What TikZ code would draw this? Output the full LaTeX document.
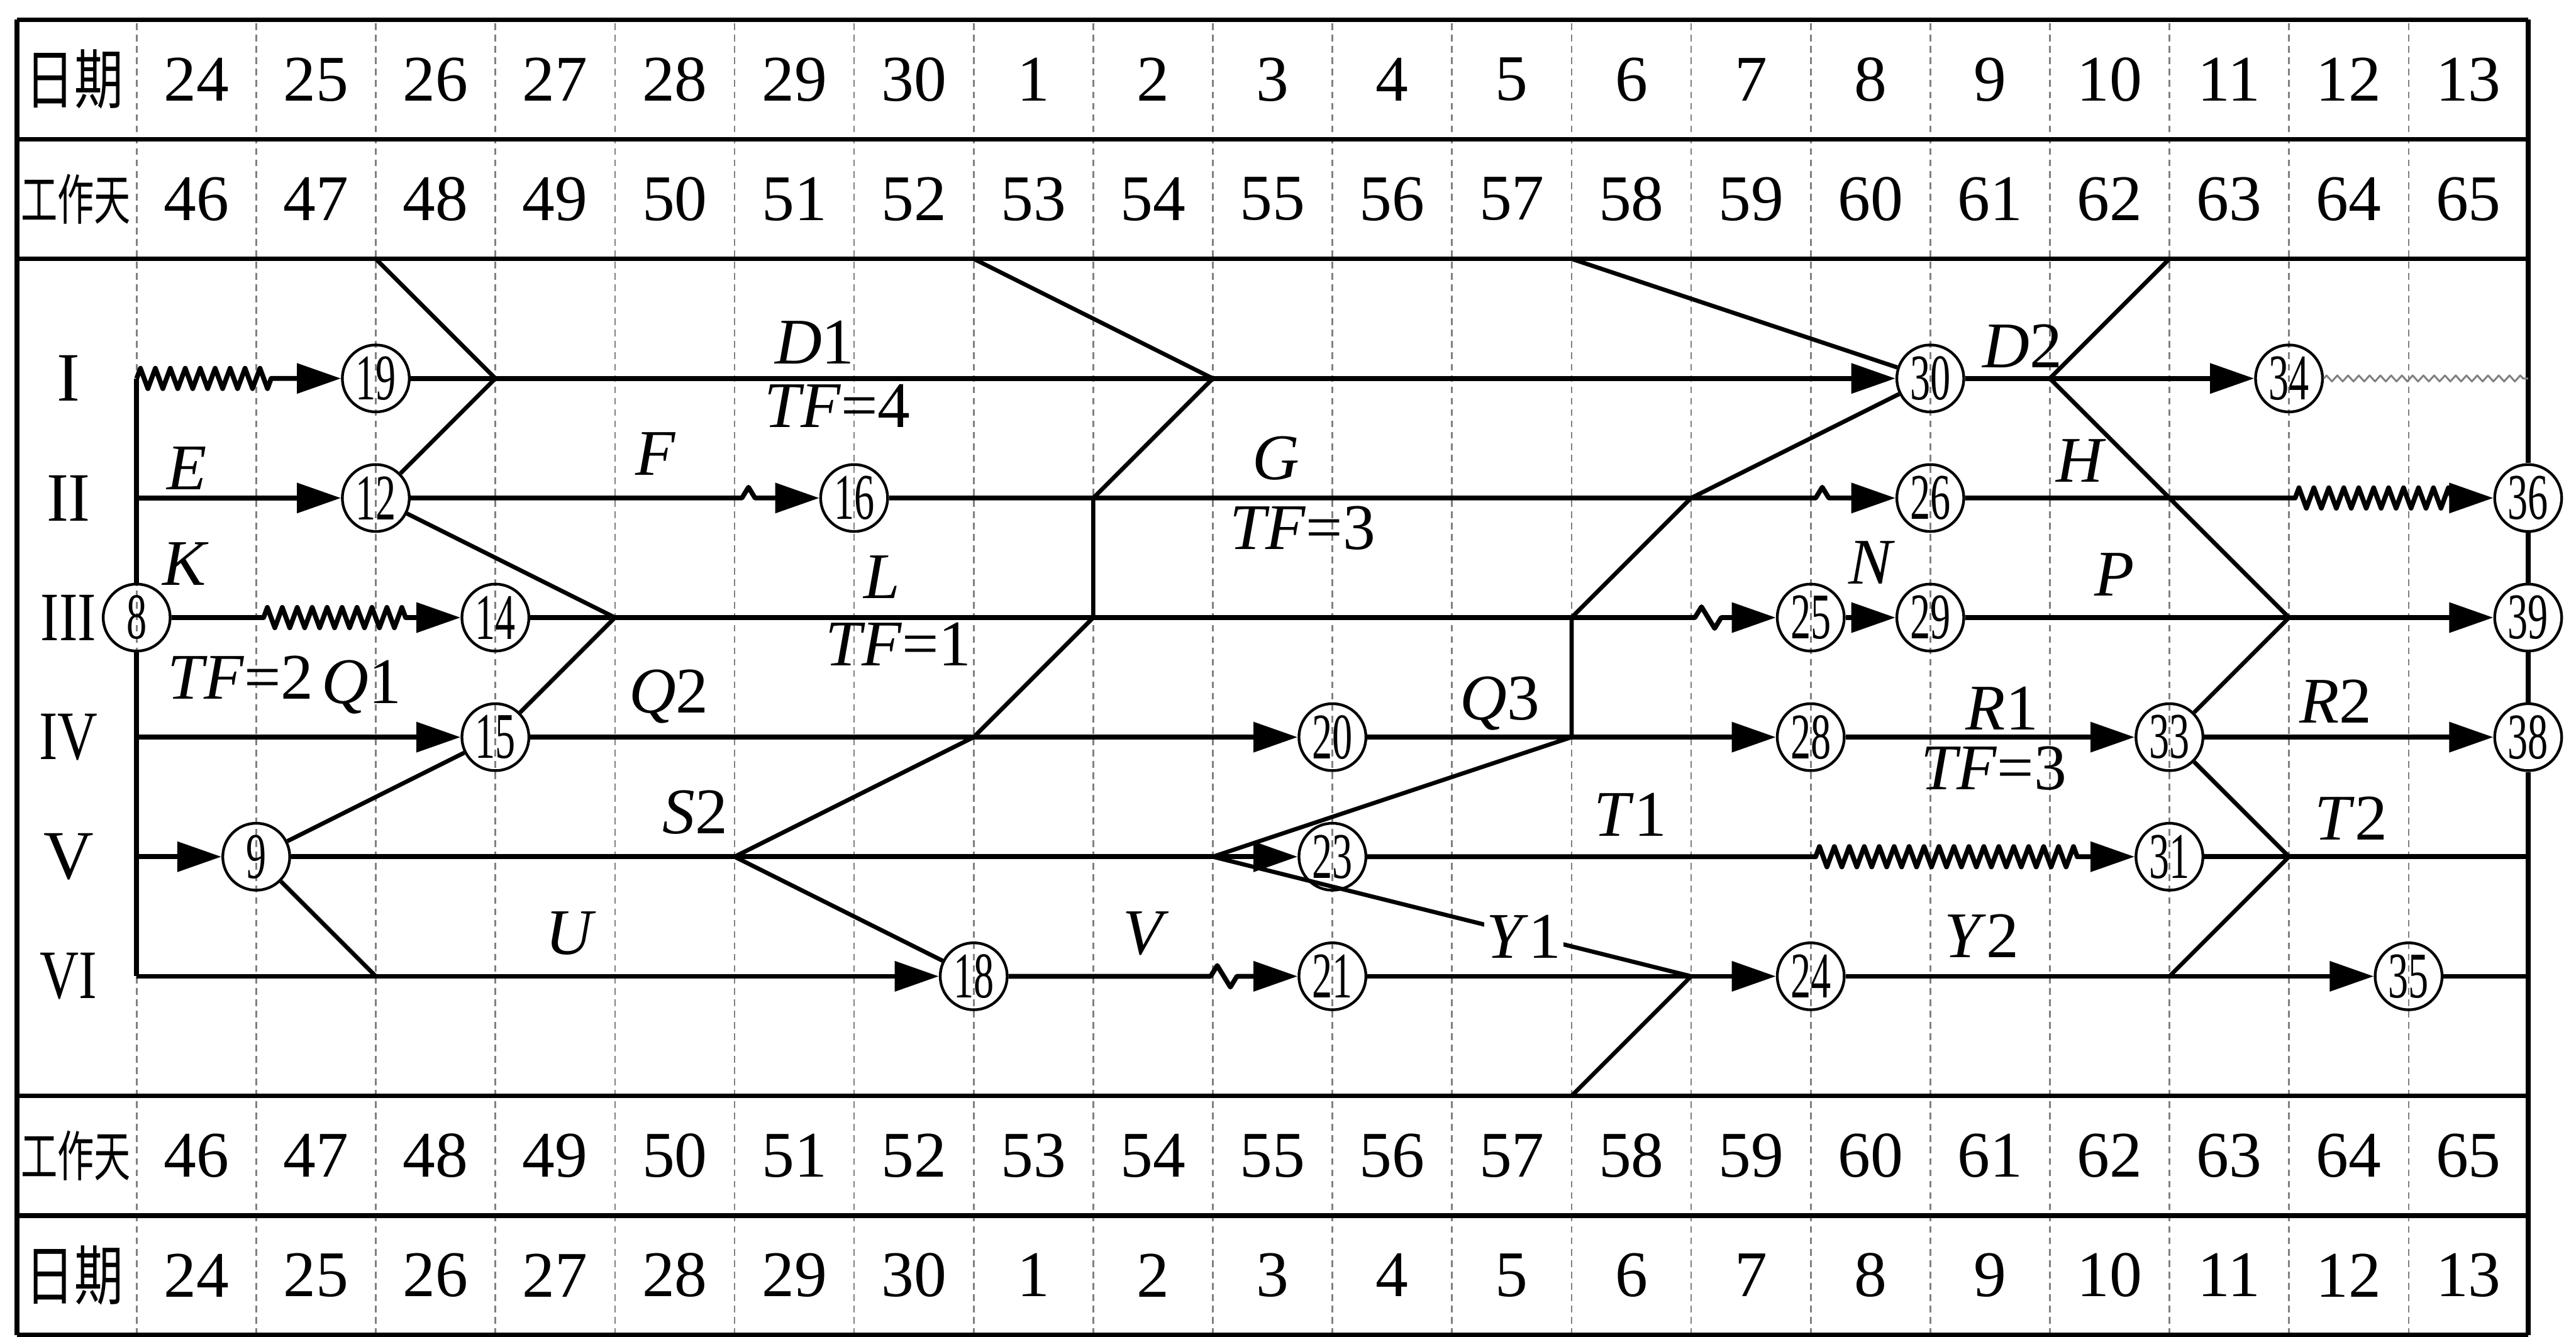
\documentclass[tikz,border=0pt]{standalone}
\usepackage{fontspec}
\setmainfont{Liberation Serif}
\newfontfamily\cjkfont{Noto Sans CJK SC}
\usepackage{graphicx}
\usepackage{tikz}
\usetikzlibrary{arrows.meta,decorations.pathmorphing}
\tikzset{
  every picture/.style={line join=round, >={Triangle[length=10.5pt,width=7pt]}},
  frame/.style={line width=1.15pt},
  gridline/.style={gray, line width=0.4pt, dash pattern=on 1.6pt off 1.1pt},
  work/.style={line width=1.15pt},
  prog/.style={line width=1pt},
  evt/.style={circle, draw, line width=0.65pt, inner sep=0pt, minimum size=0.56cm, font=\fontsize{15.5}{15.5}\selectfont},
  num/.style={font=\fontsize{15.5}{16}\selectfont},
  cjk/.style={font=\cjkfont},
  lbl/.style={font=\fontsize{15.5}{16}\selectfont, inner sep=0pt},
  wave/.style 2 args={decorate, decoration={zigzag, segment length=1.25mm, amplitude=0.85mm, pre length=#1, post length=#2}},
  kink/.style 2 args={decorate, decoration={zigzag, segment length=2.2mm, amplitude=0.9mm, pre length=#1, post length=#2}},
  hairwave/.style={gray, line width=0.45pt, decorate, decoration={zigzag, segment length=0.9mm, amplitude=0.25mm}},
}

\begin{document}
\begin{tikzpicture}
\useasboundingbox (-0.143,-0.013) rectangle (21.4,11.165);
\foreach \x in {1,...,20} \draw[gridline] (\x,0) -- (\x,11);
\draw[frame] (0,11) -- (21,11) (0,10) -- (21,10) (0,9) -- (21,9)
(0,2) -- (21,2) (0,1) -- (21,1) (0,0) -- (21,0) (0,0) -- (0,11);
\coordinate (rt) at (21,11);
\coordinate (rb) at (21,0);
\foreach \x in {1,...,21} {\foreach \y in {2,...,9} {\coordinate (p\x-\y) at (\x,\y);}}

\node[cjk] (rqtop) at (0.48,10.5) {\fontsize{15.5}{15.5}\selectfont\scalebox{0.75}[1]{日期}};
\node[cjk] (gztop) at (0.49,9.5) {\fontsize{13}{13}\selectfont\scalebox{0.67}[1]{工作天}};
\node[cjk] (gzbot) at (0.49,1.5) {\fontsize{13}{13}\selectfont\scalebox{0.67}[1]{工作天}};
\node[cjk] (rqbot) at (0.48,0.5) {\fontsize{15.5}{15.5}\selectfont\scalebox{0.75}[1]{日期}};
\foreach \d [count=\i] in {24,25,26,27,28,29,30,1,2,3,4,5,6,7,8,9,10,11,12,13} {
  \node[num] (dtop\i) at (\i+0.5,10.5) {\d};
  \node[num] (dbot\i) at (\i+0.5,0.5) {\d};
}
\foreach \w [count=\i] in {46,...,65} {
  \node[num] (wtop\i) at (\i+0.5,9.5) {\w};
  \node[num] (wbot\i) at (\i+0.5,1.5) {\w};
}
\foreach \r/\y/\s in {I/8/1,II/7/0.95,III/6/0.8,IV/5/0.8,V/4/1,VI/3/0.78}
  \node[num] (lane\r) at (0.43,\y) {\fontsize{16.5}{17}\selectfont\scalebox{\s}[1]{\r}};

\foreach \n/\x/\y in {8/1/6,9/2/4,12/3/7,14/4/6,15/4/5,16/7/7,18/8/3,19/3/8,20/11/5,21/11/3,23/11/4,24/15/3,25/15/6,26/16/7,28/15/5,29/16/6,30/16/8,31/18/4,33/18/5,34/19/8,35/20/3,36/21/7,38/21/5,39/21/6}
  \node[evt] (n\n) at (\x,\y) {\scalebox{0.62}[1]{\n}};

\draw[work] (p1-8) -- (n8) (n8) -- (p1-3);
\draw[frame] (rt) -- (n36) (n36) -- (n39) (n39) -- (n38) (n38) -- (rb);

\draw[work,->,wave={0pt}{0.58cm}] (p1-8) -- (n19);
\draw[work,->] (n19) -- (n30);
\draw[work,->] (n30) -- (n34);
\draw[hairwave] (n34) -- (p21-8);
\draw[work,->] (p1-7) -- (n12);
\draw[work,->,kink={2.77cm}{0.45cm}] (n12) -- (n16);
\draw[work,->,kink={7.75cm}{0.47cm}] (n16) -- (n26);
\draw[work,->,wave={2.76cm}{0.34cm}] (n26) -- (n36);
\draw[work,->,wave={0.77cm}{0.42cm}] (n8) -- (n14);
\draw[work,->,kink={9.74cm}{0.44cm}] (n14) -- (n25);
\draw[work,->] (n25) -- (n29);
\draw[work,->] (n29) -- (n39);
\draw[work,->] (p1-5) -- (n15);
\draw[work,->] (n15) -- (n20);
\draw[work,->] (n20) -- (n28);
\draw[work,->] (n28) -- (n33);
\draw[work,->] (n33) -- (n38);
\draw[work,->] (p1-4) -- (n9);
\draw[work,->] (n9) -- (n23);
\draw[work,->,wave={3.75cm}{0.45cm}] (n23) -- (n31);
\draw[work] (n31) -- (p21-4);
\draw[work,->] (p1-3) -- (n18);
\draw[work,->,kink={1.69cm}{0.49cm}] (n18) -- (n21);
\draw[work,->] (n21) -- (n24);
\draw[work,->] (n24) -- (n35);
\draw[work] (n35) -- (p21-3);

\draw[prog] (p3-9) -- (p4-8) -- (n12) -- (p5-6) -- (n15) -- (n9) -- (p3-3);
\draw[prog] (p8-9) -- (p10-8) -- (p9-7) -- (p9-6) -- (p8-5) -- (p6-4) -- (n18);
\draw[prog] (p13-9) -- (n30) -- (p14-7) -- (p13-6) -- (p13-5) -- (p10-4) -- (p14-3) -- (p13-2);
\draw[prog] (p18-9) -- (p17-8) -- (p19-6) -- (n33) -- (p19-4) -- (p18-3);

\foreach \t/\x/\y [count=\i] in {{\textit{D}1}/6.67/8.3,{\textit{TF}=4}/6.86/7.77,{\textit{D}2}/16.77/8.27,
{\textit{E}}/1.42/7.25,{\textit{F}}/5.34/7.37,{\textit{G}}/10.53/7.33,{\textit{TF}=3}/10.75/6.75,
{\textit{H}}/17.26/7.31,{\textit{K}}/1.41/6.45,{\textit{TF}=2}/1.87/5.5,{\textit{Q}1}/2.88/5.42,
{\textit{L}}/7.23/6.34,{\textit{TF}=1}/7.37/5.78,{\textit{N}}/15.51/6.46,{\textit{P}}/17.54/6.36,
{\textit{Q}2}/5.45/5.34,{\textit{Q}3}/12.4/5.28,{\textit{R}1}/16.6/5.24,{\textit{TF}=3}/16.53/4.74,
{\textit{R}2}/19.39/5.3,{\textit{S}2}/5.67/4.37,{\textit{T}1}/13.49/4.35,{\textit{T}2}/19.52/4.32,
{\textit{U}}/4.63/3.36,{\textit{V}}/9.44/3.36,{\textit{Y}2}/16.43/3.34}
  \node[lbl] (tag\i) at (\x,\y) {\t};
\node[lbl, fill=white, inner sep=0.5pt] (tagY1) at (12.6,3.33) {\textit{Y}1};
\end{tikzpicture}
\end{document}
